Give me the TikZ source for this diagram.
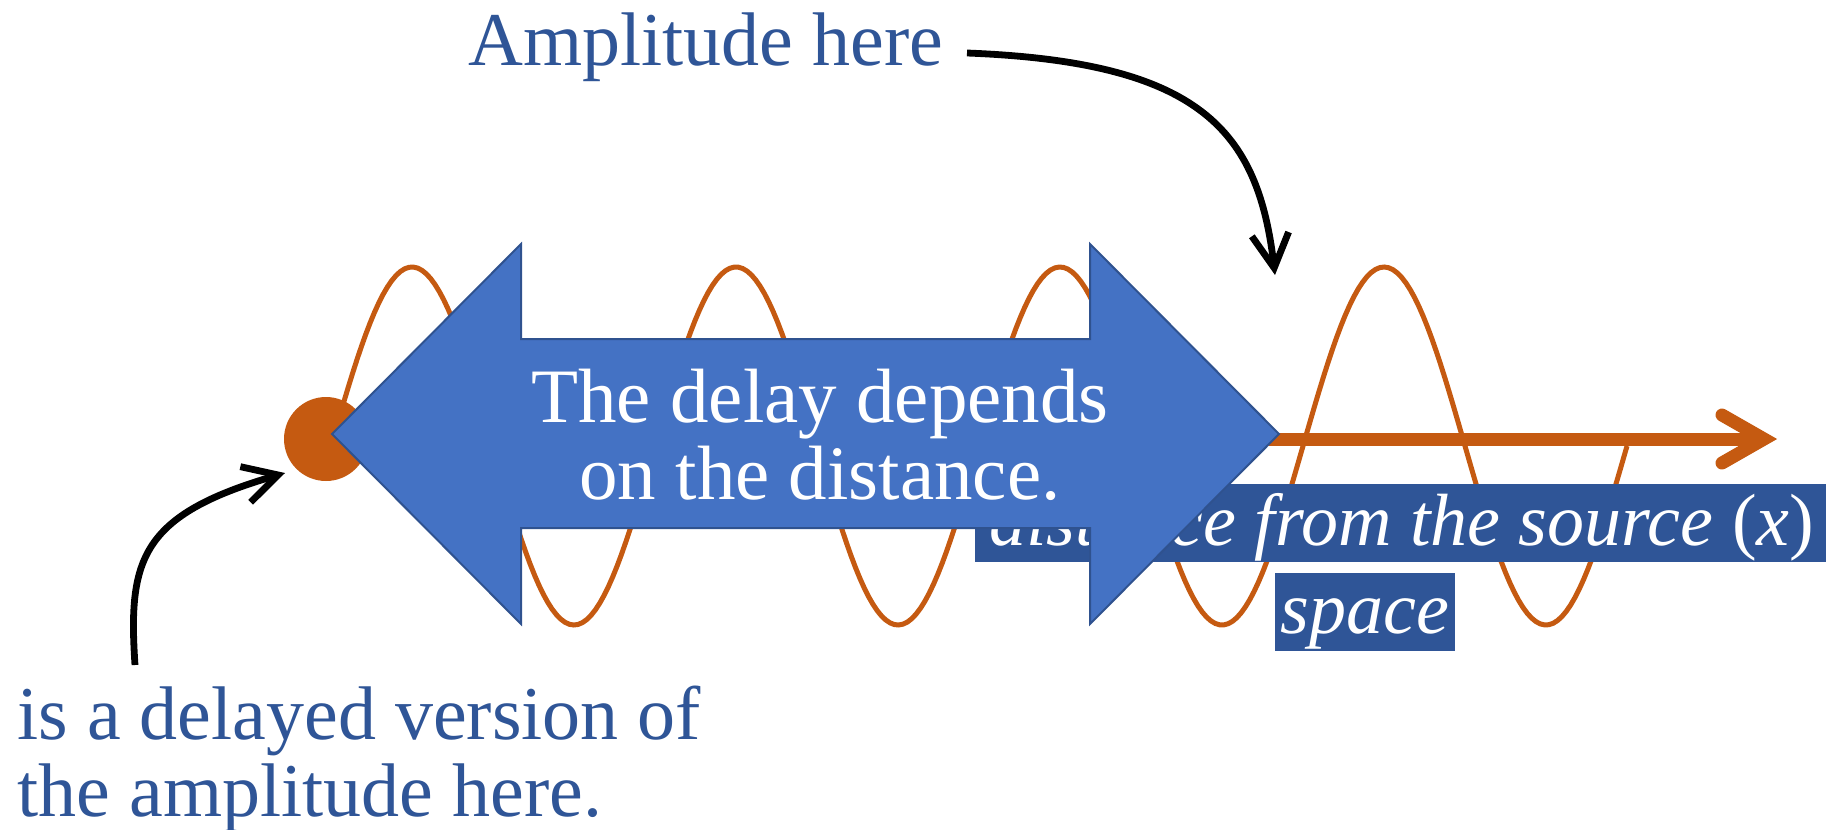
\documentclass[tikz,border=0pt]{standalone}
\usepackage{fontspec}
\setmainfont{Liberation Serif}
\usetikzlibrary{arrows.meta}
\definecolor{waveorange}{HTML}{C55A11}
\definecolor{arrowblue}{HTML}{4472C4}
\definecolor{arrowedge}{HTML}{2F528F}
\definecolor{boxblue}{HTML}{2F5597}
\definecolor{textblue}{HTML}{2F5597}
\begin{document}
\begin{tikzpicture}[x=0.5pt, y=-0.5pt,
  wave/.style={draw=waveorange, line width=2.5pt},
  axisline/.style={draw=waveorange, line width=6.5pt},
  srcdot/.style={circle, fill=waveorange, minimum size=42pt, inner sep=0pt},
  bigarrow/.style={fill=arrowblue, draw=arrowedge, line width=1pt, line join=miter},
  darkbox/.style={fill=boxblue, inner sep=0pt},
  boxtext/.style={text=white, font=\fontsize{37pt}{40pt}\selectfont\itshape, inner sep=0pt},
  bluetext/.style={text=textblue, font=\fontsize{38pt}{38.5pt}\selectfont, inner sep=0pt},
  whitetext/.style={text=white, font=\fontsize{38.5pt}{38.5pt}\selectfont, inner sep=0pt, align=center},
  pointer/.style={draw=black, line width=3.4pt, -{Straight Barb[length=17pt, width=18.5pt]}}
]
\useasboundingbox (0,0) rectangle (1826,830);

% wave
\draw[wave] plot[domain=331:1627, samples=300] (\x, {446-179*sin((\x-331)*1.1111111)});

% axis arrow
\node[srcdot] (src) at (326,439) {};
\coordinate (axistip) at (1764,439);
\coordinate (armA) at (1722,415);
\coordinate (armB) at (1722,463);
\draw[axisline] (src.center) -- (axistip);
\draw[axisline, line cap=round, line join=miter] (armA) -- (axistip) -- (armB);

% dark boxes
\node[darkbox, anchor=north west, minimum width=425.5pt, minimum height=39pt] (distbox) at (975,484) {};
\node[boxtext, anchor=base west] (disttext) at (989,545) {distance from the source {\upshape(}x{\upshape)}};
\node[darkbox, boxtext, anchor=north, minimum width=90pt, text height=30pt, text depth=9pt] (spacebox) at (1365,573) {space};

% big double arrow
\coordinate (LT) at (332,434);
\coordinate (LHU) at (521,244);
\coordinate (LSU) at (521,339);
\coordinate (RSU) at (1090,339);
\coordinate (RHU) at (1090,244);
\coordinate (RT) at (1279,434);
\coordinate (RHD) at (1090,624);
\coordinate (RSD) at (1090,528);
\coordinate (LSD) at (521,528);
\coordinate (LHD) at (521,624);
\path[bigarrow] (LT) -- (LHU) -- (LSU) -- (RSU) -- (RHU) -- (RT) -- (RHD) -- (RSD) -- (LSD) -- (LHD) -- cycle;
\node[whitetext] (delaytext) at (820,435) {The delay depends\\on the distance.};

% labels and pointers
\node[bluetext, anchor=base west] (amp) at (468,65) {Amplitude here};
\coordinate (ampstart) at (967,53);
\coordinate (amptip) at (1275,275);
\draw[pointer] (ampstart) .. controls (1200,62) and (1258,130) .. (amptip);

\node[bluetext, align=left, anchor=north west] (delayed) at (17,686) {is a delayed version of\\the amplitude here.};
\coordinate (delstart) at (135,665);
\coordinate (deltip) at (285,473);
\draw[pointer] (delstart) .. controls (128,560) and (140,515) .. (deltip);
\end{tikzpicture}
\end{document}
